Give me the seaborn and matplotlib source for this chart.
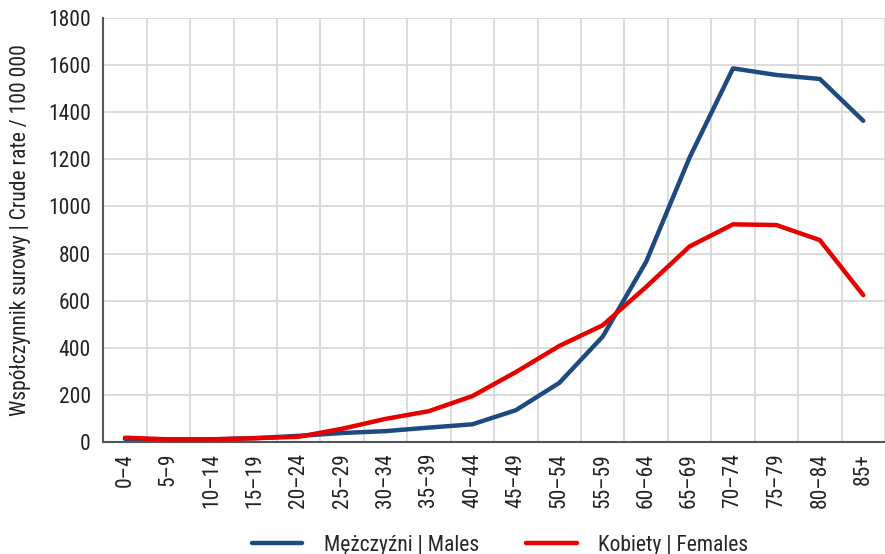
import matplotlib
matplotlib.use('Agg')
import matplotlib.pyplot as plt
import seaborn as sns
import pandas as pd

age_groups = ['0–4', '5–9', '10–14', '15–19', '20–24', '25–29', '30–34', '35–39', '40–44',
              '45–49', '50–54', '55–59', '60–64', '65–69', '70–74', '75–79', '80–84', '85+']
males = [12, 9, 10, 15, 25, 37, 45, 60, 74, 134, 250, 447, 765, 1208, 1587, 1559, 1542, 1364]
females = [17, 10, 10, 15, 21, 55, 97, 130, 194, 296, 407, 495, 658, 830, 924, 921, 857, 623]
labels = ['Mężczyźni | Males', 'Kobiety | Females']
colors = ['#1f4a7f', '#e60000']

df = pd.concat([
    pd.DataFrame({'age': age_groups, 'rate': males, 'sex': labels[0]}),
    pd.DataFrame({'age': age_groups, 'rate': females, 'sex': labels[1]}),
])

sns.set_style('white')
plt.rcParams['font.family'] = ['Roboto Condensed', 'DejaVu Sans']
fs = 15.5

fig = plt.figure(figsize=(8.85, 5.54), dpi=100)
ax = fig.add_axes([0.1167, 0.2027, 0.8833, 0.7643])
sns.lineplot(data=df, x='age', y='rate', hue='sex', hue_order=labels,
             palette=colors, lw=3.2, sort=False, ax=ax)
ax.get_lines()[1].set_zorder(3)

ax.set_xlim(-0.5, 17.23)
ax.set_ylim(0, 1800)
ax.set_yticks(range(0, 1801, 200))
ax.set_xticks(range(len(age_groups)))
ax.set_xticklabels(age_groups, rotation=90, fontsize=fs, color='#222222')
ax.tick_params(axis='y', labelsize=fs, labelcolor='#222222', length=0, pad=9)
ax.tick_params(axis='x', length=0, pad=8)
ax.set_xticks([i - 0.5 for i in range(len(age_groups) + 1)], minor=True)
ax.grid(True, which='minor', axis='x', color='#d9d9d9', lw=1.3)
ax.grid(True, which='major', axis='y', color='#d9d9d9', lw=1.3)
ax.tick_params(which='minor', length=0)
ax.set_axisbelow(True)
for s in ['top', 'right']:
    ax.spines[s].set_visible(False)
for s in ['left', 'bottom']:
    ax.spines[s].set_color('#555555')
    ax.spines[s].set_linewidth(1.5)
ax.set_xlabel('')
ax.set_ylabel('Współczynnik surowy | Crude rate / 100 000', fontsize=fs, color='#222222', labelpad=12)

ax.legend_.remove()
handles = ax.get_lines()[:2]
fig.legend(handles, labels, loc='center', bbox_to_anchor=(0.565, 0.016), ncol=2,
           frameon=False, fontsize=fs, handlelength=2.35, handletextpad=1.0, columnspacing=2.2)

fig.savefig('out.png', dpi=100)
